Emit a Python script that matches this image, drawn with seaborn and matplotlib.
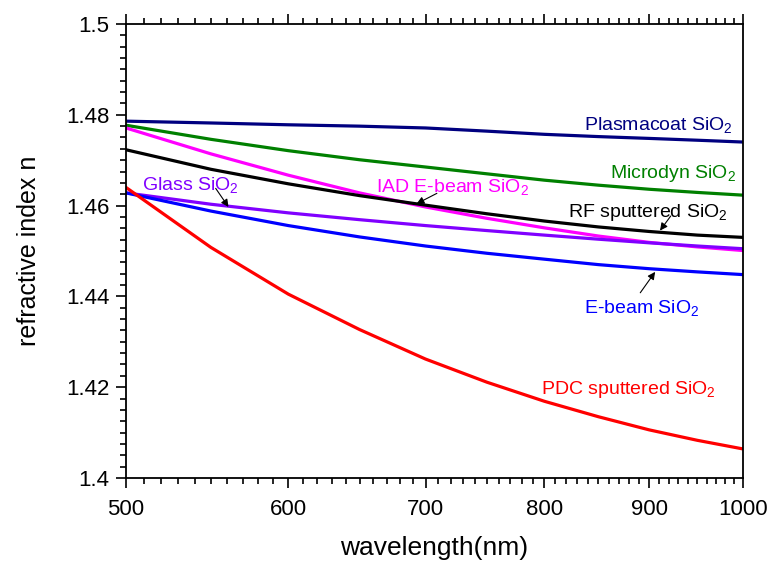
import numpy as np
import pandas as pd
import matplotlib
matplotlib.use("Agg")
import matplotlib.pyplot as plt
import matplotlib.ticker as mticker
import seaborn as sns

# wavelength grid (nm) and refractive index
wavelength = [500, 550, 600, 650, 700, 750, 800, 850, 900, 950, 1000]
plasmacoat = [1.4786, 1.4782, 1.4778, 1.4775, 1.4771, 1.4764, 1.4757, 1.4752, 1.4748, 1.4744, 1.4740]
microdyn = [1.4777, 1.4746, 1.4721, 1.4701, 1.4685, 1.4670, 1.4656, 1.4645, 1.4636, 1.4629, 1.4623]
iad_ebeam = [1.4771, 1.4714, 1.4667, 1.4628, 1.4597, 1.4572, 1.4551, 1.4533, 1.4519, 1.4509, 1.4501]
rf_sputtered = [1.4723, 1.4680, 1.4648, 1.4622, 1.4601, 1.4582, 1.4566, 1.4553, 1.4543, 1.4535, 1.4530]
glass = [1.4628, 1.4603, 1.4584, 1.4569, 1.4556, 1.4545, 1.4535, 1.4526, 1.4518, 1.4511, 1.4505]
ebeam = [1.4628, 1.4588, 1.4556, 1.4531, 1.4511, 1.4495, 1.4482, 1.4470, 1.4461, 1.4454, 1.4448]
pdc_sputtered = [1.4640, 1.4508, 1.4405, 1.4327, 1.4262, 1.4211, 1.4169, 1.4135, 1.4106, 1.4083, 1.4064]

series = {
    "Plasmacoat": plasmacoat,
    "Microdyn": microdyn,
    "IAD E-beam": iad_ebeam,
    "RF sputtered": rf_sputtered,
    "Glass": glass,
    "E-beam": ebeam,
    "PDC sputtered": pdc_sputtered,
}
colors = {
    "Plasmacoat": "#000080",
    "Microdyn": "#008000",
    "IAD E-beam": "#FF00FF",
    "RF sputtered": "#000000",
    "Glass": "#8000FF",
    "E-beam": "#0000FF",
    "PDC sputtered": "#FF0000",
}

df = pd.concat(
    [pd.DataFrame({"wavelength": wavelength, "n": vals, "film": name})
     for name, vals in series.items()],
    ignore_index=True,
)

sns.set_style("ticks")
plt.rcParams["font.family"] = ["Liberation Sans", "DejaVu Sans"]
plt.rcParams["mathtext.fontset"] = "custom"
plt.rcParams["mathtext.rm"] = "Liberation Sans"
plt.rcParams["mathtext.it"] = "Liberation Sans"
plt.rcParams["text.color"] = "black"
plt.rcParams["axes.labelcolor"] = "black"
plt.rcParams["xtick.color"] = "black"
plt.rcParams["ytick.color"] = "black"
plt.rcParams["lines.solid_capstyle"] = "round"
plt.rcParams["lines.solid_joinstyle"] = "round"

fig = plt.figure(figsize=(7.71, 5.62), dpi=100)
ax = fig.add_axes([126 / 771, 1 - 478 / 562, 617 / 771, 454 / 562])

sns.lineplot(data=df, x="wavelength", y="n", hue="film", palette=colors,
             linewidth=2.3, legend=False, ax=ax)

ax.set_xscale("log")
ax.set_xlim(500, 1000)
ax.set_ylim(1.40, 1.50)

major_x = [500, 600, 700, 800, 900, 1000]
ax.xaxis.set_major_locator(mticker.FixedLocator(major_x))
ax.xaxis.set_major_formatter(mticker.FixedFormatter([str(v) for v in major_x]))
ax.xaxis.set_minor_locator(mticker.FixedLocator([v for v in range(510, 1000, 10) if v % 100]))
ax.xaxis.set_minor_formatter(mticker.NullFormatter())

ax.yaxis.set_major_locator(mticker.MultipleLocator(0.02))
ax.yaxis.set_minor_locator(mticker.MultipleLocator(0.0025))
ax.yaxis.set_major_formatter(mticker.FuncFormatter(lambda v, p: f"{v:g}"))

ax.tick_params(which="both", direction="out", top=True, right=False,
               width=1.2, color="black")
ax.tick_params(which="major", length=7, labelsize=16)
ax.tick_params(axis="x", which="major", pad=8)
ax.tick_params(axis="y", which="major", pad=5)
ax.tick_params(which="minor", length=4)
for sp in ax.spines.values():
    sp.set_color("black")
    sp.set_linewidth(1.3)

ax.set_xlabel("wavelength(nm)", fontsize=19, labelpad=12)
ax.set_ylabel("refractive index n", fontsize=18, labelpad=18)

fs = 14
ax.text(989, 1.4766, "Plasmacoat SiO$_2$", color=colors["Plasmacoat"], fontsize=fs, ha="right", va="baseline")
ax.text(992, 1.4660, "Microdyn SiO$_2$", color=colors["Microdyn"], fontsize=fs, ha="right", va="baseline")
ax.text(983, 1.4575, "RF sputtered SiO$_2$", color=colors["RF sputtered"], fontsize=fs, ha="right", va="baseline")
ax.text(662, 1.4630, "IAD E-beam SiO$_2$", color=colors["IAD E-beam"], fontsize=fs, ha="left", va="baseline")
ax.text(509, 1.4634, "Glass SiO$_2$", color=colors["Glass"], fontsize=fs, ha="left", va="baseline")
ax.text(836, 1.4363, "E-beam SiO$_2$", color=colors["E-beam"], fontsize=fs, ha="left", va="baseline")
ax.text(797, 1.4185, "PDC sputtered SiO$_2$", color=colors["PDC sputtered"], fontsize=fs, ha="left", va="baseline")

arrow = dict(arrowstyle="-|>", color="black", lw=0.8, mutation_scale=11, shrinkA=0, shrinkB=0)
ax.annotate("", xy=(561, 1.4597), xytext=(553, 1.4638), arrowprops=arrow)
ax.annotate("", xy=(693, 1.4604), xytext=(709, 1.4627), arrowprops=arrow)
ax.annotate("", xy=(911, 1.4545), xytext=(922, 1.4577), arrowprops=arrow)
ax.annotate("", xy=(906, 1.4454), xytext=(891, 1.4408), arrowprops=arrow)

fig.savefig("out.png", dpi=100)
